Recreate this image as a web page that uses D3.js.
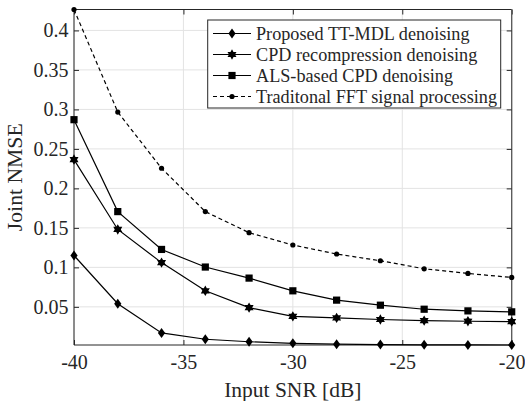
<!DOCTYPE html>
<html><head><meta charset="utf-8">
<script src="https://cdn.jsdelivr.net/npm/d3@7"></script>
<style>body{margin:0;background:#fff}svg{display:block}</style>
</head><body><svg id="c" width="525" height="401"></svg>
<script>
const snr = [-40,-38,-36,-34,-32,-30,-28,-26,-24,-22,-20];
const proposed = [0.115,0.054,0.017,0.009,0.0058,0.0038,0.0028,0.0022,0.0019,0.0018,0.0017];
const cpdRecomp = [0.2365,0.148,0.106,0.0703,0.049,0.038,0.036,0.034,0.0326,0.0318,0.0313];
const alsCpd = [0.287,0.1706,0.1227,0.1004,0.0864,0.0703,0.0585,0.0521,0.047,0.0449,0.0437];
const fft = [0.4265,0.2966,0.2255,0.1706,0.1439,0.1283,0.1169,0.1084,0.0982,0.0923,0.0872];
const seriesNames = ["Proposed TT-MDL denoising","CPD recompression denoising","ALS-based CPD denoising","Traditonal FFT signal processing"];
const xTicks = [-40,-35,-30,-25,-20];
const yTicks = [0.05,0.1,0.15,0.2,0.25,0.3,0.35,0.4];
const xLabel = "Input SNR [dB]";
const yLabel = "Joint NMSE";

const FONT = '"Liberation Serif","Times New Roman",serif';
const svg = d3.select("#c");
const L=74, R=511.7, T=9.5, B=345;
const all = proposed.concat(cpdRecomp, alsCpd, fft);
const x = d3.scaleLinear().domain([-40,-20]).range([L,R]);
const y = d3.scaleLinear().domain([d3.min(all), d3.max(all)]).range([B,T]);

// grid
const g = svg.append("g");
g.selectAll(".gx").data(xTicks).join("line").attr("x1",d=>x(d)).attr("x2",d=>x(d)).attr("y1",T).attr("y2",B).attr("stroke","#e3e3e3").attr("stroke-width",1);
g.selectAll(".gy").data(yTicks).join("line").attr("y1",d=>y(d)).attr("y2",d=>y(d)).attr("x1",L).attr("x2",R).attr("stroke","#e3e3e3").attr("stroke-width",1);

// axes
const ax = d3.axisBottom(x).tickValues(xTicks).tickSize(-5).tickPadding(10).tickFormat(d=>String(d));
const ay = d3.axisLeft(y).tickValues(yTicks).tickSize(-5).tickPadding(5.5).tickFormat(d=>String(d));
const axt = d3.axisTop(x).tickValues(xTicks).tickSize(-5).tickFormat("");
const ayr = d3.axisRight(y).tickValues(yTicks).tickSize(-5).tickFormat("");
function style(sel){sel.select(".domain").attr("stroke","#262626");sel.selectAll(".tick line").attr("stroke","#262626");sel.selectAll("text").style("font-family",FONT).style("font-size","20px").style("fill","#262626");}
svg.append("g").attr("transform",`translate(0,${B})`).call(ax).call(style).call(s=>s.select(".domain").attr("d",`M${L},0H${R}`));
svg.append("g").attr("transform",`translate(${L},0)`).call(ay).call(style).call(s=>s.select(".domain").attr("d",`M0,${B}V${T}`));
svg.append("g").attr("transform",`translate(0,${T})`).call(axt).call(style).call(s=>s.select(".domain").attr("d",`M${L},0H${R}`));
svg.append("g").attr("transform",`translate(${R},0)`).call(ayr).call(style).call(s=>s.select(".domain").attr("d",`M0,${B}V${T}`).attr("stroke","#555").attr("stroke-width",1.3));

// markers
function diamond(s){return `M0,${-s}L${s*0.72},0L0,${s}L${-s*0.72},0Z`;}
function square(s){return `M${-s},${-s}H${s}V${s}H${-s}Z`;}
function hexagram(s){let p=[];for(let i=0;i<12;i++){const a=Math.PI/6*i-Math.PI/2;const r=i%2?s*0.58:s;p.push([r*Math.cos(a),r*Math.sin(a)]);}return "M"+p.map(q=>q.join(",")).join("L")+"Z";}
function dot(s){return d3.symbol(d3.symbolCircle, Math.PI*s*s)();}
const series = [
 {v:proposed, m:()=>diamond(5), dash:null},
 {v:cpdRecomp, m:()=>hexagram(5.2), dash:null},
 {v:alsCpd, m:()=>square(3.6), dash:null},
 {v:fft, m:()=>dot(2.6), dash:"4,3"}
];
const line = d3.line().x((d,i)=>x(snr[i])).y(d=>y(d));
series.forEach(s=>{
  svg.append("path").attr("d",line(s.v)).attr("fill","none").attr("stroke","#000").attr("stroke-width",1.2).attr("stroke-dasharray",s.dash);
  svg.append("g").selectAll("path").data(s.v).join("path").attr("d",s.m()).attr("transform",(d,i)=>`translate(${x(snr[i])},${y(d)})`).attr("fill","#000");
});

// labels
svg.append("text").attr("x",(L+R)/2).attr("y",397).attr("text-anchor","middle").style("font-family",FONT).style("font-size","21.5px").style("fill","#262626").text(xLabel);
svg.append("text").attr("transform",`translate(22,${(T+B)/2}) rotate(-90)`).attr("text-anchor","middle").style("font-family",FONT).style("font-size","21.7px").style("fill","#262626").text(yLabel);

// legend
const lg = svg.append("g");
lg.append("rect").attr("x",207.7).attr("y",20).attr("width",293).attr("height",88).attr("fill","#fff").attr("stroke","#262626").attr("stroke-width",1);
seriesNames.forEach((n,i)=>{
  const cy = 33.5 + i*21;
  lg.append("line").attr("x1",213).attr("x2",251).attr("y1",cy).attr("y2",cy).attr("stroke","#000").attr("stroke-width",1.2).attr("stroke-dasharray",series[i].dash);
  lg.append("path").attr("d",series[i].m()).attr("transform",`translate(232,${cy})`).attr("fill","#000");
  lg.append("text").attr("x",256).attr("y",cy+6).style("font-family",FONT).style("font-size","18.2px").style("fill","#262626").text(n);
});
</script></body></html>
